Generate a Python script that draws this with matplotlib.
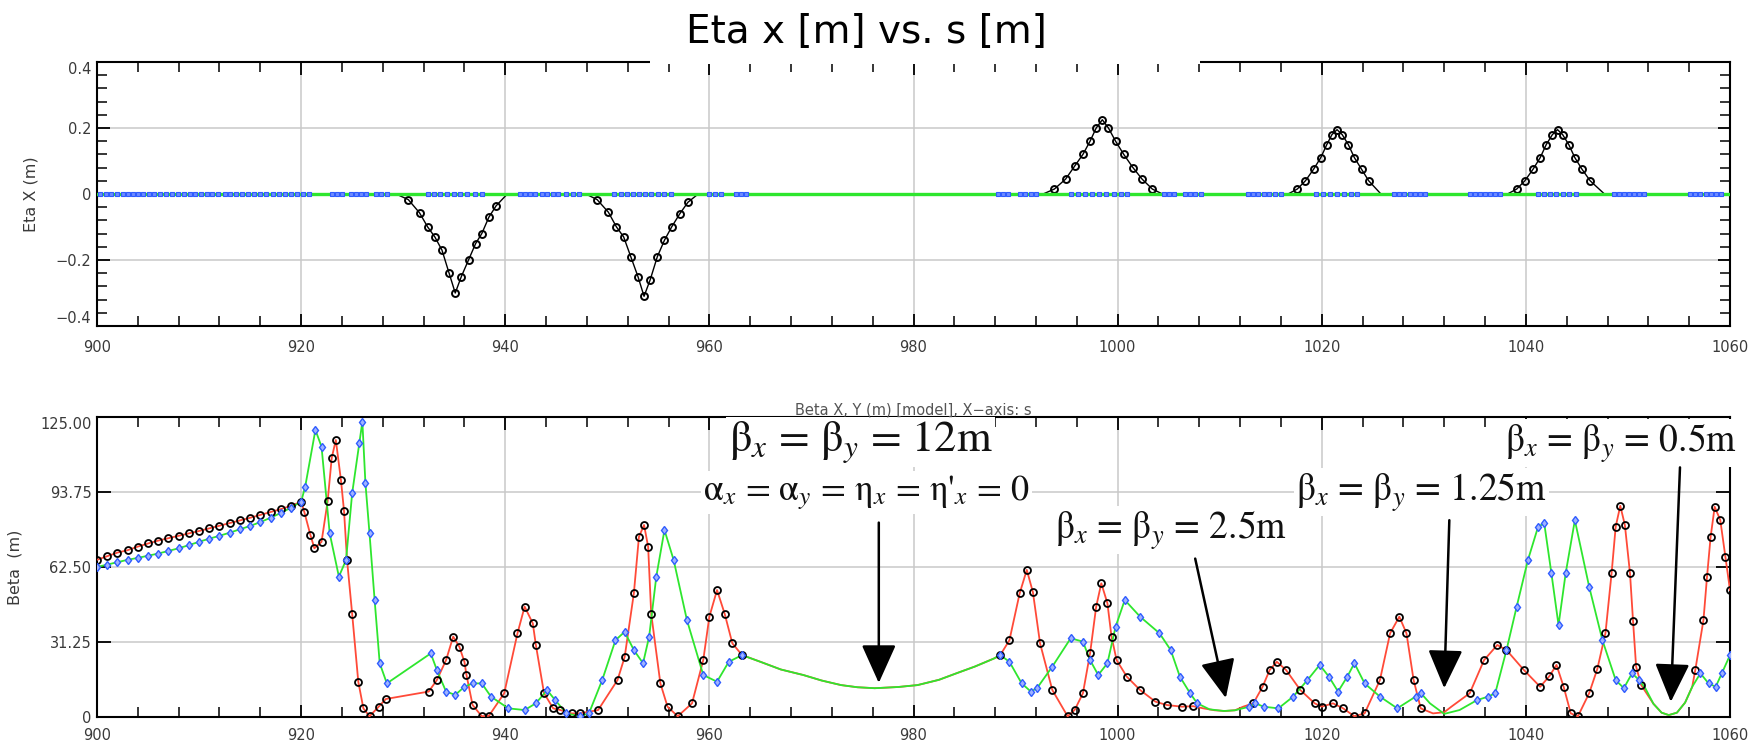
"""
Eta x and Beta x/y vs. s for the final-focus section (900-1060 m).
Values read off the lattice plot; drawn as two stacked panels.
"""
import numpy as np
import matplotlib.pyplot as plt
from matplotlib.patches import Rectangle
from matplotlib.ticker import MultipleLocator, FixedLocator

plt.rcParams["mathtext.fontset"] = "stix"

W, H = 1762, 743

# --- top panel: horizontal dispersion (eta x) ---
ETA_S = [900,
         929.3, 930.5, 931.6, 932.4, 933.1, 933.8, 934.5, 935.1, 935.7, 936.4, 937.1, 937.7, 938.4, 939.1, 940.2,
         947.9, 949.0, 950.1, 950.9, 951.6, 952.3, 953.0, 953.6, 954.2, 954.9, 955.6, 956.3, 957.1, 957.9, 958.9,
         992.7, 993.8, 994.9, 995.8, 996.6, 997.3, 997.9, 998.5, 999.1, 999.8, 1000.6, 1001.5, 1002.4, 1003.4, 1004.4,
         1016.7, 1017.6, 1018.4, 1019.2, 1019.9, 1020.5, 1021.0, 1021.5, 1022.0, 1022.6, 1023.2, 1023.9, 1024.6, 1025.8,
         1038.2, 1039.1, 1039.9, 1040.7, 1041.4, 1042.0, 1042.6, 1043.1, 1043.6, 1044.2, 1044.8, 1045.5, 1046.3, 1047.7,
         1060]
ETA_X = [0,
         0, -0.017, -0.057, -0.10, -0.13, -0.17, -0.24, -0.30, -0.25, -0.20, -0.15, -0.12, -0.07, -0.036, 0,
         0, -0.017, -0.055, -0.10, -0.13, -0.19, -0.25, -0.31, -0.26, -0.19, -0.14, -0.10, -0.06, -0.025, 0,
         0, 0.015, 0.045, 0.085, 0.12, 0.16, 0.20, 0.225, 0.20, 0.16, 0.12, 0.08, 0.045, 0.015, 0,
         0, 0.015, 0.04, 0.075, 0.11, 0.15, 0.18, 0.195, 0.18, 0.15, 0.11, 0.075, 0.04, 0,
         0, 0.015, 0.04, 0.075, 0.11, 0.15, 0.18, 0.195, 0.18, 0.15, 0.11, 0.075, 0.04, 0,
         0]
# element positions (eta y = 0 there)
ELEM_S = [900.3, 900.9, 901.4, 902.0, 902.5, 903.0, 903.5, 904.0, 904.5, 905.1, 905.6, 906.2, 906.8,
          907.3, 907.9, 908.5, 909.1, 909.6, 910.2, 910.8, 911.3, 911.9, 912.5, 913.0, 913.6, 914.2,
          914.8, 915.4, 916.0, 916.6, 917.2, 917.8, 918.4, 919.0, 919.6, 920.2, 920.8,
          923.0, 923.5, 924.0, 924.9, 925.4, 925.9, 926.4, 927.3, 927.8, 928.4,
          932.4, 933.0, 933.6, 934.3, 935.0, 935.6, 936.3, 937.0, 937.7,
          941.4, 941.9, 942.4, 942.9, 943.6, 944.1, 944.7, 945.2, 946.0, 946.6, 947.2,
          950.7, 951.3, 951.9, 952.5, 953.1, 953.7, 954.3, 955.0, 955.6, 956.2,
          960.0, 960.6, 961.1, 962.6, 963.1, 963.6,
          988.3, 988.8, 989.3, 990.4, 990.9, 991.5, 992.0,
          995.4, 996.1, 996.8, 997.5, 998.2, 998.9, 999.6, 1000.3, 1000.9,
          1004.5, 1005.0, 1005.5, 1006.6, 1007.1, 1007.6, 1008.2,
          1012.8, 1013.3, 1013.8, 1014.3, 1014.8, 1015.4, 1016.0,
          1019.4, 1020.1, 1020.8, 1021.5, 1022.2, 1022.9, 1023.5,
          1027.1, 1027.6, 1028.1, 1028.6, 1029.1, 1029.6, 1030.1,
          1034.5, 1035.0, 1035.5, 1036.0, 1036.5, 1037.0, 1037.5,
          1041.2, 1041.8, 1042.4, 1043.0, 1043.6, 1044.2, 1044.9,
          1048.6, 1049.1, 1049.6, 1050.1, 1050.6, 1051.1, 1051.6,
          1056.1, 1056.6, 1057.1, 1057.6, 1058.1, 1058.6, 1059.1]

# --- bottom panel: beta functions ---
BX1_S = [900, 901, 902, 903, 904, 905, 906, 907, 908, 909, 910, 911, 912, 913, 914, 915, 916, 917, 918, 919, 920,
         920.3, 920.9, 921.3, 922.0, 922.6, 923.0, 923.4, 923.9, 924.2, 924.5, 925.0, 925.6, 926.1, 926.7, 927.6, 928.3,
         932.5, 933.3, 934.2, 934.9, 935.5, 936.0, 936.2, 936.8, 937.7, 938.4, 939.9, 941.2, 941.9, 942.7, 943.0,
         943.8, 944.7, 945.4, 946.5, 947.3, 949.1, 951.0, 951.7, 952.6, 953.1, 953.6, 954.0, 954.3, 955.2, 955.9,
         956.9, 958.3, 959.4, 960.0, 960.75, 961.5, 962.25, 963.2]
BX1 = [65.5, 67, 68.5, 69.5, 71, 72.3, 73.5, 74.5, 75.5, 76.5, 77.5, 78.6, 79.7, 80.8, 81.9, 83, 84.2, 85.4, 86.6, 88, 89.7,
       85.6, 76, 70.3, 73, 90, 108, 115.4, 98.8, 86, 65.4, 43, 14.7, 3.6, 0.3, 4.3, 7.5,
       10.6, 15.4, 23.7, 33.5, 29.3, 23, 17.5, 5, 0.3, 0.5, 9.9, 34.9, 46, 39, 30,
       9.9, 3.6, 2.9, 1.5, 1.5, 2.9, 15.4, 25, 51.5, 75.1, 80, 71, 43, 14, 4.3,
       0.3, 5.7, 23.7, 41.8, 52.9, 43, 30.7, 25.8]
BX2_S = [988.5, 989.4, 990.4, 991.1, 991.7, 992.4, 993.6, 995.1, 995.8, 996.6, 997.3, 997.9, 998.4, 999.0, 999.4,
         999.9, 1000.9, 1002.2, 1003.7, 1004.8, 1006.3, 1007.4, 1008.4, 1009.5, 1010.5, 1011.5, 1012.3, 1013.3,
         1014.2, 1014.9, 1015.6, 1016.5, 1017.9, 1019.3, 1020.0, 1021.1, 1022.1, 1023.2, 1024.2, 1025.7, 1026.7,
         1027.6, 1028.3, 1029.0, 1029.7, 1030.9, 1032.0, 1032.7, 1034.5, 1035.9, 1037.2, 1038.1, 1039.8, 1041.4,
         1042.3, 1043.0, 1043.7, 1044.4, 1045.1, 1046.2, 1047.0, 1047.8, 1048.4, 1048.8, 1049.25, 1049.7, 1050.2,
         1050.5, 1050.8, 1051.3, 1052.5, 1053.3, 1054.0, 1054.8, 1055.6, 1056.3, 1056.6, 1057.4, 1057.75, 1058.1,
         1058.5, 1059.05, 1059.55, 1060]
BX2 = [25.8, 32, 51.5, 61.3, 52, 30.7, 11.25, 0.3, 3, 9.9, 26.5, 46, 55.7, 47.4, 33.5,
       23.7, 16.8, 11.25, 6.4, 5, 4.3, 4.5, 3.6, 2.8, 2.5, 2.8, 4.3, 5.7,
       12.6, 19.6, 23, 19.6, 11.25, 5.7, 4.3, 5.7, 3.6, 0.3, 1.5, 15.4, 34.9,
       41.8, 34.9, 15.4, 3.6, 1.5, 2.0, 4.3, 9.9, 23.7, 30, 27.9, 19.6, 12.6,
       17, 21.7, 12.6, 1.5, 0.3, 9.9, 20, 35, 60, 79.3, 88, 80, 60,
       40, 21, 13.3, 5.5, 1.8, 0.8, 1.8, 6, 12.6, 19.6, 40.4, 58.5, 75,
       87.6, 82, 66.8, 52.9]

BY1_S = [900, 901, 902, 903, 904, 905, 906, 907, 908, 909, 910, 911, 912, 913, 914, 915, 916, 917, 918, 919, 920,
         920.4, 921.4, 922.0, 922.8, 923.7, 924.4, 925.0, 925.7, 926.0, 926.3, 926.7, 927.2, 927.7, 928.4,
         932.7, 933.3, 934.2, 935.1, 936.0, 936.8, 937.7, 938.6, 940.3, 941.9, 943.0, 944.1, 944.9, 946.0, 947.3,
         948.2, 949.5, 950.8, 951.7, 952.6, 953.5, 954.1, 954.8, 955.6, 956.5, 957.8, 959.4, 960.75, 961.9, 963.2]
BY1 = [62.5, 63.5, 64.5, 65.5, 66.3, 67.2, 68.1, 69.2, 70.3, 71.6, 73, 74.3, 75.5, 76.8, 78.2, 79.6, 81.2, 83, 85, 87.2, 89.7,
       96, 119.6, 112.6, 76.5, 58.5, 65.4, 93.2, 114, 123, 97.4, 76.5, 48.8, 22.4, 14,
       26.5, 19.6, 10.6, 9.2, 12.6, 14, 14, 8.5, 3.6, 2.9, 5.7, 11.2, 7, 1.5, 0.3,
       1.5, 15.4, 32, 35.5, 27.9, 22.4, 33.5, 58.5, 77.9, 65.4, 40.4, 17.5, 14.7, 23, 25.8]
BY2_S = [988.5, 989.4, 990.6, 991.5, 992.1, 993.6, 995.4, 996.6, 997.3, 998.1, 999.0, 999.8, 1000.7, 1002.2,
         1004.1, 1005.2, 1006.1, 1007.1, 1007.8, 1009.0, 1010.4, 1011.5, 1012.9, 1013.5, 1014.3, 1015.75, 1017.2,
         1018.6, 1019.8, 1020.7, 1021.6, 1022.5, 1023.2, 1024.2, 1025.7, 1027.4, 1029.2, 1029.7, 1030.6, 1032.0,
         1033.5, 1035.2, 1036.3, 1037.0, 1038.1, 1039.1, 1040.2, 1041.2, 1041.8, 1042.5, 1043.2, 1043.9, 1044.8,
         1046.2, 1047.5, 1048.8, 1049.6, 1050.4, 1051.1, 1051.7, 1052.5, 1053.3, 1054.0, 1054.8, 1055.6, 1056.3,
         1057.1, 1057.9, 1058.6, 1059.2, 1060]
BY2 = [25.8, 23, 14, 10.6, 12, 21, 32.8, 31.4, 23.7, 17.5, 22.4, 37.6, 48.75, 41.8,
       34.9, 27.9, 16.8, 9.9, 5.7, 3.2, 2.5, 2.8, 4.3, 5.7, 4.3, 3.6, 8.5,
       15.4, 21.7, 16.8, 10.6, 16.8, 22.4, 14, 8.5, 3.6, 8.5, 10, 5.7, 1.3,
       2.9, 7, 8.5, 9.9, 27.9, 46, 65.4, 79.3, 80.7, 59.9, 38.3, 59.9, 82,
       54.3, 32, 15.4, 12, 18.2, 15.4, 12, 5.5, 1.8, 0.8, 1.8, 6, 12.6,
       18.2, 14, 12.6, 18.2, 25.8]

# long drift with the 12 m waist (beta x = beta y)
DRIFT_S = [965, 967, 969.2, 971, 972.9, 974.5, 976.2, 978.5, 980.4, 982.5, 984.2, 986, 987.9]
DRIFT_B = [23, 19.8, 17.5, 15.2, 13.3, 12.4, 12.0, 12.5, 13.3, 15.5, 18.2, 21, 24.4]

# stretches of the lattice that hold magnets (markers are drawn there)
MAGNET_ZONES = [(900, 963.5), (988.3, 1008.0), (1012.5, 1030.0), (1034.5, 1051.5), (1056.5, 1060)]

RED = "#ff4a38"
GREEN = "#2ee62e"
BLUE = "#2f5cff"
GRID = "#c9c9c9"
TXT = "#3a3a3a"


def in_zones(s):
    s = np.asarray(s)
    m = np.zeros(s.shape, bool)
    for a, b in MAGNET_ZONES:
        m |= (s >= a) & (s <= b)
    return m


def style_axes(ax):
    ax.set_xlim(900, 1060)
    ax.xaxis.set_major_locator(MultipleLocator(20))
    ax.xaxis.set_minor_locator(MultipleLocator(4))
    ax.tick_params(which="both", direction="in", top=True, right=True, colors="black",
                   labelcolor=TXT, labelsize=10.5)
    ax.tick_params(which="major", length=9, width=1.3)
    ax.tick_params(which="minor", length=7, width=1.1)
    ax.tick_params(axis="y", pad=4)
    for sp in ax.spines.values():
        sp.set_linewidth(1.5)
    ax.grid(True, which="major", color=GRID, lw=1.1, zorder=0)
    ax.set_axisbelow(True)


fig = plt.figure(figsize=(W / 100, H / 100), dpi=100)

# ---------------- top panel ----------------
ax1 = fig.add_axes([97 / W, 1 - 326 / H, 1633 / W, 264 / H])
style_axes(ax1)
ax1.set_ylim(-0.4, 0.4)
ax1.yaxis.set_major_locator(FixedLocator([-0.4, -0.2, 0, 0.2, 0.4]))
ax1.yaxis.set_minor_locator(MultipleLocator(0.04))
ax1.set_yticklabels(["\u22120.4", "\u22120.2", "0", "0.2", "0.4"])
ax1.tick_params(axis="x", pad=10)
ylab = ax1.get_yticklabels()
ylab[-1].set_va("top")
ylab[0].set_va("bottom")

eta_s = np.array(ETA_S)
eta_x = np.array(ETA_X)
ax1.plot(eta_s, eta_x, color="black", lw=1.0, zorder=3)
bump = eta_x != 0
ax1.plot(eta_s[bump], eta_x[bump], ls="none", marker="o", ms=5, mfc="none",
         mec="black", mew=1.4, zorder=4)
ax1.axhline(0, color=GREEN, lw=2.4, zorder=4)
ax1.plot(ELEM_S, np.zeros(len(ELEM_S)), ls="none", marker="s", ms=3.2,
         mfc="#6f8cff", mec=BLUE, mew=0.8, zorder=5)
ax1.set_ylabel("Eta X (m)", color=TXT, fontsize=11.5)
ax1.yaxis.set_label_coords(-59 / 1633, 0.5)

# ---------------- bottom panel ----------------
ax2 = fig.add_axes([97 / W, 1 - 717 / H, 1633 / W, 300 / H])
style_axes(ax2)
ax2.set_ylim(0, 125)
ax2.yaxis.set_major_locator(FixedLocator([0, 31.25, 62.5, 93.75, 125]))
ax2.set_yticklabels(["0", "31.25", "62.50", "93.75", "125.00"])
ax2.tick_params(axis="y", which="major", length=10)
ax2.tick_params(axis="x", pad=8)
ax2.get_yticklabels()[-1].set_va("top")

bx_s = np.array(BX1_S + DRIFT_S + BX2_S)
bx = np.array(BX1 + DRIFT_B + BX2)
by_s = np.array(BY1_S + DRIFT_S + BY2_S)
by = np.array(BY1 + DRIFT_B + BY2)

ax2.plot(bx_s, bx, color=RED, lw=1.3, zorder=3)
ax2.plot(by_s, by, color=GREEN, lw=1.3, zorder=3.5)
mx = in_zones(bx_s)
my = in_zones(by_s)
ax2.plot(bx_s[mx], bx[mx], ls="none", marker="o", ms=5, mfc="none", mec="black",
         mew=1.3, zorder=4)
ax2.plot(by_s[my], by[my], ls="none", marker="d", ms=4.5, mfc="#9fb3ff", mec=BLUE,
         mew=1.0, zorder=4)
ax2.set_ylabel("Beta  (m)", color=TXT, fontsize=11.5)
ax2.yaxis.set_label_coords(-75 / 1633, 0.5)

fig.text(913 / W, 1 - 410 / H, "Beta X, Y (m) [model], X\u2212axis: s", ha="center",
         va="center", fontsize=10.5, color="#555555")

# annotations (Times-like face, upright Greek, italic subscripts)
box = dict(facecolor="white", edgecolor="none", pad=1.5)
tkw = dict(ha="center", va="center", color="#111111", bbox=box,
           zorder=6, clip_on=False, family="STIXGeneral")
ax2.text(974.8, 114.6, r"β$_x$ = β$_y$ = 12m", fontsize=32, **tkw)
ax2.text(975.4, 93.5, r"α$_x$ = α$_y$ = η$_x$ = η$'_x$ = 0", fontsize=26, **tkw)
ax2.text(1005.2, 77.9, r"β$_x$ = β$_y$ = 2.5m", fontsize=27, **tkw)
ax2.text(1029.8, 93.75, r"β$_x$ = β$_y$ = 1.25m", fontsize=27, **tkw)
ax2.text(1049.3, 114.2, r"β$_x$ = β$_y$ = 0.5m", fontsize=27, **tkw)

arrow = dict(arrowstyle="-|>,head_width=0.45,head_length=1.0", lw=1.8, color="black",
             mutation_scale=24, shrinkA=0, shrinkB=0)
for tail, tip in [((976.6, 81.0), (976.6, 14.2)),
                  ((1007.6, 66.0), (1010.6, 7.9)),
                  ((1032.5, 82.0), (1032.0, 12.0)),
                  ((1055.1, 104.0), (1054.2, 6.3))]:
    ax2.annotate("", xy=tip, xytext=tail, arrowprops=arrow, zorder=7)

# title with a white patch over the top frame, as in the original
fig.add_artist(Rectangle((650 / W, 1 - 64 / H), 550 / W, 64 / H, transform=fig.transFigure,
                         facecolor="white", edgecolor="none", zorder=3))
fig.text(866 / W, 1 - 32 / H, "Eta x [m] vs. s [m]", ha="center", va="center",
         fontsize=28, color="black", zorder=4)

fig.savefig("out.png", dpi=100)
